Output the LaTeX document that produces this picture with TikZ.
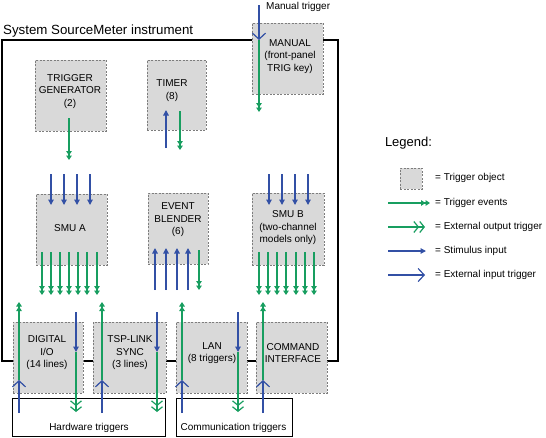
\documentclass[tikz,border=0pt]{standalone}
\usepackage{fontspec}
\setmainfont{Liberation Sans}
\usetikzlibrary{arrows.meta}
\definecolor{tgreen}{RGB}{24,158,96}
\definecolor{tblue}{RGB}{50,80,165}
\definecolor{boxgray}{RGB}{217,217,217}
\definecolor{boxborder}{RGB}{125,125,125}
\begin{document}
\begin{tikzpicture}[x=1pt,y=-1pt,
  tobj/.style={draw=boxborder,dash pattern=on 2pt off 1.5pt,fill=boxgray,line width=0.6pt,inner sep=0pt},
  lbl/.style={font=\fontsize{10}{12.5}\selectfont,align=center,inner sep=0pt},
  trig/.style={draw=tgreen,fill=tgreen,line width=1.2pt,-{Triangle[length=4.5pt,width=5.5pt] Triangle[length=4.5pt,width=5.5pt]}},
  extout/.style={draw=tgreen,line width=1.2pt,-{Straight Barb[length=4.5pt,width=11pt] Straight Barb[length=4.5pt,width=11pt]}},
  stim/.style={draw=tblue,fill=tblue,line width=1.2pt,-{Triangle[length=5.5pt,width=5.5pt]}},
  extin/.style={draw=tblue,line width=1.2pt,-{Straight Barb[length=6pt,width=13pt]}},
  groupbox/.style={draw=black,line width=1pt}]
\useasboundingbox (0,0) rectangle (546,437);
% instrument frame
\draw[line width=1.5pt] (2,40) rectangle (338,361);
\node[anchor=base west,inner sep=0pt,font=\fontsize{13.3}{16}\selectfont] (title) at (3,34.5) {System SourceMeter instrument};
% group boxes
\draw[groupbox] (12,398) rectangle (165,436);
\draw[groupbox] (176,398) rectangle (292,436);
\node[lbl] (hw) at (89,428) {Hardware triggers};
\node[lbl] (comm) at (233.5,428) {Communication triggers};
% trigger objects
\node[tobj,minimum width=71pt,minimum height=71pt] (tg) at (70.5,95.5) {};
\node[tobj,minimum width=59pt,minimum height=70pt] (timer) at (176.5,95) {};
\node[tobj,minimum width=71pt,minimum height=71pt] (manual) at (287.5,58.5) {};
\node[tobj,minimum width=71pt,minimum height=71pt] (smua) at (71.5,229.5) {};
\node[tobj,minimum width=60pt,minimum height=71pt] (eb) at (178,228.5) {};
\node[tobj,minimum width=72pt,minimum height=72pt] (smub) at (288,229) {};
\node[tobj,minimum width=70pt,minimum height=71pt] (dio) at (48,357.5) {};
\node[tobj,minimum width=73pt,minimum height=71pt] (tsp) at (129.5,357.5) {};
\node[tobj,minimum width=71pt,minimum height=71pt] (lan) at (211.5,357.5) {};
\node[tobj,minimum width=71pt,minimum height=71pt] (cmd) at (291.5,357.5) {};
% texts
\node[lbl] (tgt) at (70,91.5) {TRIGGER\\GENERATOR\\(2)};
\node[lbl] (timert) at (172,90.5) {TIMER\\(8)};
\node[lbl] (mant) at (290,56.5) {MANUAL\\(front-panel\\TRIG key)};
\node[lbl] (smuat) at (70,228) {SMU A};
\node[lbl] (ebt) at (178,220) {EVENT\\BLENDER\\(6)};
\node[lbl] (smubt) at (288,228) {SMU B\\(two-channel\\models only)};
\node[lbl] (diot) at (47,353) {DIGITAL\\I/O\\(14 lines)};
\node[lbl] (tspt) at (130,353) {TSP-LINK\\SYNC\\(3 lines)};
\node[lbl] (lant) at (212,353) {LAN\\(8 triggers)};
\node[lbl] (cmdt) at (293,353) {COMMAND\\INTERFACE};
% manual trigger
\node[lbl,anchor=west] (mtrig) at (266,7) {Manual trigger};
\coordinate (m0) at (259,5);
\coordinate (m1) at (259,40);
\coordinate (m2) at (259,112);
\draw[extin] (m0) -- (m1);
\draw[trig] (m1) -- (m2);
% trigger generator
\draw[trig] (69,118) -- (69,160);
% timer
\draw[stim] (166,148) -- (166,110);
\draw[trig] (180,111) -- (180,150);
% SMU inputs
\foreach \x in {51,64,77,90,269,282,295,308}
  \draw[stim] (\x,174) -- (\x,205);
% SMU outputs
\foreach \x in {42,51,60,69,78,87,97,259,268,277,286,296,305,314}
  \draw[trig] (\x,252) -- (\x,295);
% event blender
\foreach \x in {155,166,177,188}
  \draw[stim] (\x,290) -- (\x,248);
\draw[trig] (199,250) -- (199,290);
% bottom row: external inputs -> trigger events upward
\foreach \x in {19,102,182,263}{
  \draw[extin] (\x,413) -- (\x,380);
  \draw[trig] (\x,380) -- (\x,302);
}
% bottom row: stimulus down -> external outputs
\foreach \x in {76,157,238}{
  \draw[stim] (\x,312) -- (\x,352);
  \draw[extout] (\x,352) -- (\x,412);
}
% legend
\node[inner sep=0pt,font=\fontsize{13}{16}\selectfont] (leg) at (408.5,143) {Legend:};
\node[tobj,minimum width=22pt,minimum height=21pt] (legbox) at (411,178.5) {};
\node[lbl,anchor=west] (l1) at (435,178) {= Trigger object};
\node[lbl,anchor=west] (l2) at (435,203) {= Trigger events};
\node[lbl,anchor=west] (l3) at (435,227) {= External output trigger};
\node[lbl,anchor=west] (l4) at (435,251) {= Stimulus input};
\node[lbl,anchor=west] (l5) at (435,275) {= External input trigger};
\draw[trig] (388,203) -- (430,203);
\draw[extout] (388,227) -- (425,227);
\draw[stim] (388,251) -- (426,251);
\draw[extin] (388,275) -- (425,275);
\end{tikzpicture}
\end{document}
